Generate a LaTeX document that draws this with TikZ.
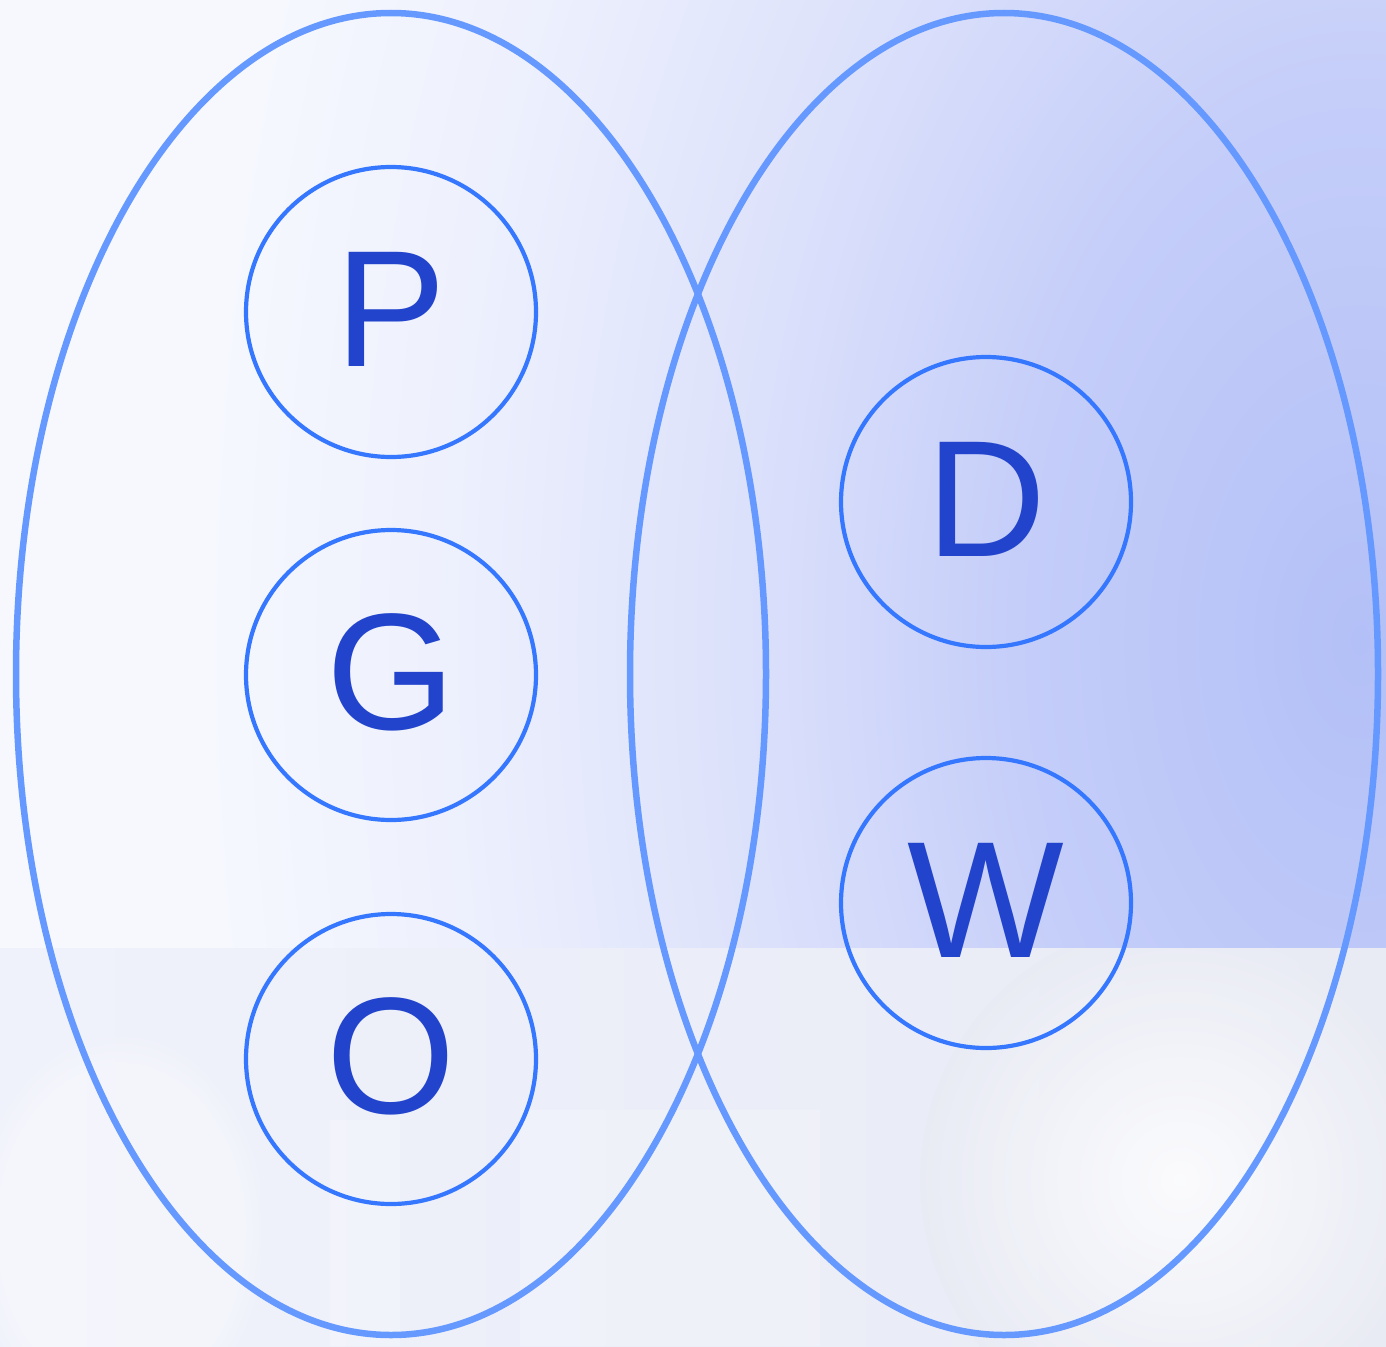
\documentclass[tikz,border=0pt]{standalone}
\usepackage{fontspec}
\setmainfont{Liberation Sans}
\usetikzlibrary{shapes.geometric,fadings}
\definecolor{ringblue}{HTML}{6699FF}
\definecolor{circblue}{HTML}{3677FF}
\definecolor{letterblue}{HTML}{2244CC}
\definecolor{bgA}{HTML}{B3C0F7}
\definecolor{bgB}{HTML}{C5CEF9}
\definecolor{bgC}{HTML}{DDE2FB}
\definecolor{bgD}{HTML}{EEF1FD}
\definecolor{bgE}{HTML}{F6F8FE}
\definecolor{lowL}{HTML}{F0F2FB}
\definecolor{lowM}{HTML}{EBEEF8}
\definecolor{lowR}{HTML}{E9EBF4}
\pgfdeclareradialshading{topshade}{\pgfpoint{0bp}{0bp}}{color(0bp)=(bgA); color(6bp)=(bgB); color(11bp)=(bgC); color(16bp)=(bgD); color(20bp)=(bgE); color(25bp)=(bgE); color(50bp)=(bgE)}
\tikzset{
  bigset/.style={ellipse, draw=ringblue, line width=6.5pt, minimum width=750pt, minimum height=1322pt, inner sep=0pt},
  elem/.style={circle, draw=circblue, line width=4.2pt, minimum size=290pt, inner sep=0pt, text=letterblue, font=\fontsize{166}{166}\selectfont, text height=116pt, text depth=8pt}
}
\begin{document}
\begin{tikzpicture}[x=1pt,y=-1pt]
\useasboundingbox (0,0) rectangle (1386,1346);
% background upper
\begin{scope}
\clip (0,0) rectangle (1386,948);
\shade[shading=topshade] (1360,640) ellipse (1450 and 2300);
\end{scope}
% background lower band
\begin{scope}
\clip (0,948) rectangle (1386,1346);
\shade[left color=lowL, right color=lowR, middle color=lowM] (0,948) rectangle (1386,1346);
\shade[inner color=white, outer color=lowR, opacity=0.8] (1180,1180) circle (260);
\fill[white, opacity=0.35, path fading=circle with fuzzy edge 20 percent] (120,1230) ellipse (150 and 200);
\fill[white, opacity=0.25] (330,1120) rectangle (400,1346);
\fill[white, opacity=0.2] (520,1110) rectangle (820,1346);
\end{scope}
% sets
\node[bigset] (L) at (391,674) {};
\node[bigset, minimum width=748pt] (R) at (1004,674) {};
% elements
\node[elem] (P) at (391,312) {P};
\node[elem] (G) at (391,675) {G};
\node[elem] (O) at (391,1059) {O};
\node[elem] (D) at (986,502) {D};
\node[elem] (W) at (986,903) {W};
\end{tikzpicture}
\end{document}
